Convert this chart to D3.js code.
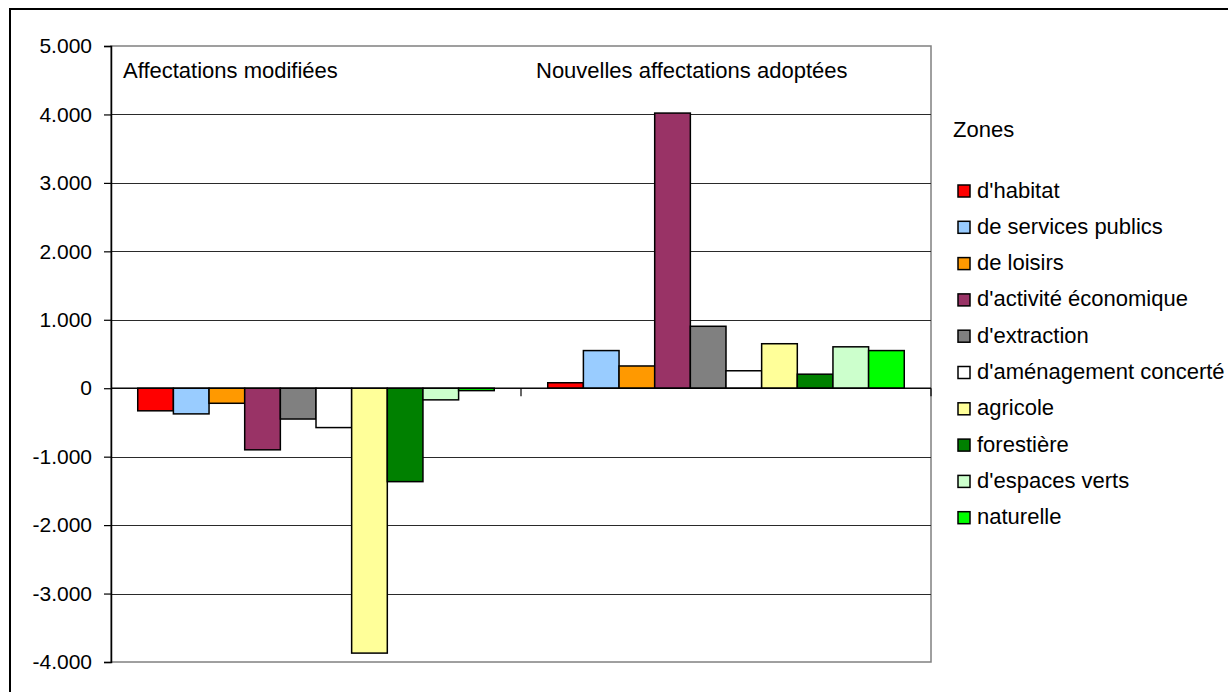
<!DOCTYPE html>
<html>
<head>
<meta charset="utf-8">
<script src="https://cdn.jsdelivr.net/npm/d3@7"></script>
<style>
  body { margin: 0; background: #fff; }
  text { font-family: "Liberation Sans", Arial, sans-serif; fill: #000; }
</style>
</head>
<body>
<script>
// categories (x groups) and zones (series)
let groups = ["Affectations modifiées", "Nouvelles affectations adoptées"];
let zones = ["d'habitat", "de services publics", "de loisirs", "d'activité économique",
	"d'extraction", "d'aménagement concerté", "agricole", "forestière",
	"d'espaces verts", "naturelle"];
let zoneColors = ["#FF0000", "#99CCFF", "#FF9900", "#993366", "#808080",
	"#FFFFFF", "#FFFF99", "#008000", "#CCFFCC", "#00FF00"];

// values, one per zone
let modifiees = [-330, -375, -220, -900, -450, -575, -3870, -1365, -170, -35];
let adoptees = [80, 550, 325, 4020, 905, 255, 650, 205, 605, 550];

let yTicks = [5000, 4000, 3000, 2000, 1000, 0, -1000, -2000, -3000, -4000];

let svgWidth = 1228,
	svgHeight = 692;

let plot = { left: 111, right: 931, top: 46, bottom: 662 };

let svg = d3
	.select("body")
	.append("svg")
	.attr("width", svgWidth)
	.attr("height", svgHeight);

// outer frame (runs off the right and bottom of the picture)
svg.append("rect")
	.attr("x", 10).attr("y", 9)
	.attr("width", 1260).attr("height", 720)
	.attr("fill", "#fff")
	.attr("stroke", "#000")
	.attr("stroke-width", 2);

// "5.000", "-1.000" ...
let fmt = d3.formatLocale({ decimal: ",", thousands: ".", grouping: [3], currency: ["", "€"], minus: "-" })
	.format(",.0f");

let y = d3.scaleLinear().domain([-4000, 5000]).range([plot.bottom, plot.top]);

let x0 = d3.scaleBand().domain(groups).range([plot.left, plot.right]);
let x1 = d3.scaleBand().domain(zones).range([0, x0.bandwidth()]).paddingInner(0).paddingOuter(0.75);

let color = d3.scaleOrdinal().domain(zones).range(zoneColors);

let data = groups.map((g, i) => ({
	group: g,
	values: zones.map((z, j) => ({ zone: z, value: i === 0 ? modifiees[j] : adoptees[j] }))
}));

// plot area
svg.append("rect")
	.attr("x", plot.left).attr("y", plot.top)
	.attr("width", plot.right - plot.left).attr("height", plot.bottom - plot.top)
	.attr("fill", "#fff")
	.attr("stroke", "#808080")
	.attr("stroke-width", 1.5);

// gridlines
svg.append("g")
	.selectAll("line")
	.data(yTicks.filter(d => d !== 5000 && d !== -4000))
	.enter()
	.append("line")
	.attr("x1", plot.left).attr("x2", plot.right)
	.attr("y1", d => Math.round(y(d)) + 0.5)
	.attr("y2", d => Math.round(y(d)) + 0.5)
	.attr("stroke", "#2a2a2a")
	.attr("stroke-width", 1);

// bars
let groupSel = svg.append("g")
	.selectAll("g")
	.data(data)
	.enter()
	.append("g")
	.attr("transform", d => `translate(${x0(d.group)},0)`);

groupSel.selectAll("rect")
	.data(d => d.values)
	.enter()
	.append("rect")
	.attr("x", d => x1(d.zone))
	.attr("width", x1.bandwidth())
	.attr("y", d => y(Math.max(0, d.value)))
	.attr("height", d => Math.abs(y(d.value) - y(0)))
	.attr("fill", d => color(d.zone))
	.attr("stroke", "#000")
	.attr("stroke-width", 1.5);

// category axis on the zero line
let xAxis = svg.append("g");
xAxis.append("line")
	.attr("x1", plot.left).attr("x2", plot.right)
	.attr("y1", y(0)).attr("y2", y(0))
	.attr("stroke", "#000")
	.attr("stroke-width", 1.2);
xAxis.selectAll(".xt")
	.data(groups.map(g => x0(g) + x0.bandwidth()))
	.enter()
	.append("line")
	.attr("class", "xt")
	.attr("x1", d => d).attr("x2", d => d)
	.attr("y1", y(0)).attr("y2", y(0) + 8)
	.attr("stroke", "#000")
	.attr("stroke-width", 1.2);

// value axis
let yAxis = d3.axisLeft(y)
	.tickValues(yTicks)
	.tickSize(7)
	.tickPadding(12)
	.tickFormat(d => d === 0 ? "0" : fmt(d));

let yg = svg.append("g")
	.attr("transform", `translate(${plot.left},0)`)
	.call(yAxis);
yg.select(".domain").attr("stroke", "#000").attr("stroke-width", 1.5);
yg.selectAll(".tick line").attr("stroke", "#000").attr("stroke-width", 1.2);
yg.selectAll(".tick text")
	.style("font-family", "'Liberation Sans', Arial, sans-serif")
	.style("font-size", "21px")
	.attr("fill", "#000");

// group titles inside the plot
svg.append("text")
	.attr("x", 123).attr("y", 78)
	.style("font-size", "22px")
	.text(groups[0]);
svg.append("text")
	.attr("x", 536).attr("y", 78)
	.style("font-size", "22px")
	.text(groups[1]);

// legend
let legend = svg.append("g");
legend.append("text")
	.attr("x", 953).attr("y", 137)
	.style("font-size", "22px")
	.text("Zones");

let item = legend.selectAll(".item")
	.data(zones)
	.enter()
	.append("g")
	.attr("class", "item")
	.attr("transform", (d, i) => `translate(958,${185 + i * 36.3})`);

item.append("rect")
	.attr("width", 12).attr("height", 12)
	.attr("fill", d => color(d))
	.attr("stroke", "#000")
	.attr("stroke-width", 1.5);

item.append("text")
	.attr("x", 19).attr("y", 12.5)
	.style("font-size", "22px")
	.text(d => d);
</script>
</body>
</html>
